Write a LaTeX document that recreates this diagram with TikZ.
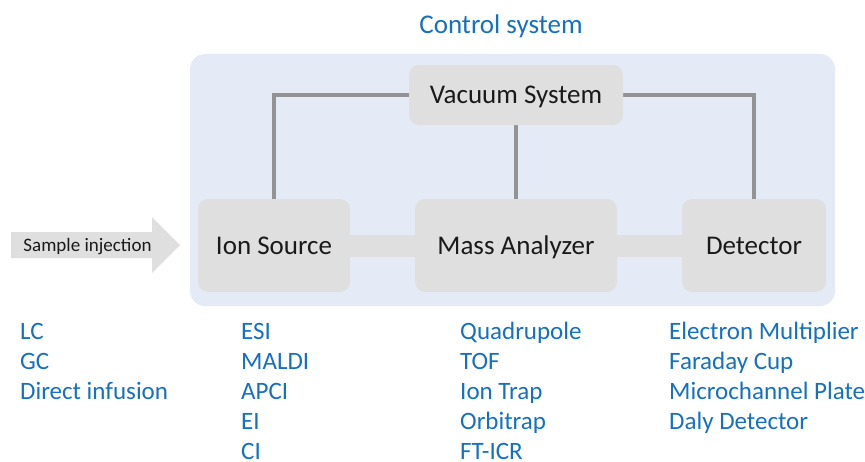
\documentclass[tikz,border=0pt]{standalone}
\usepackage{fontspec}
\setmainfont{Carlito}
\usetikzlibrary{backgrounds}
\definecolor{panel}{HTML}{E5EBF6}
\definecolor{boxg}{HTML}{DFDFDF}
\definecolor{lineg}{HTML}{939393}
\definecolor{txtblue}{HTML}{1570C0}
\definecolor{txtdark}{HTML}{1A1A1A}
\begin{document}
\begin{tikzpicture}[x=1pt,y=-1pt,
  box/.style={fill=boxg, rounded corners=10pt, text=txtdark, font=\fontsize{27}{32}\selectfont, inner sep=0pt, minimum height=93pt, text height=17.4pt, text depth=0pt},
  link/.style={draw=boxg, line width=22pt},
  vline/.style={draw=lineg, line width=4pt},
  item/.style={anchor=base west, text=txtblue, font=\fontsize{25}{30}\selectfont, inner sep=0pt}]
\useasboundingbox (0,0) rectangle (865,461);

\node[text=txtblue, font=\fontsize{27}{32}\selectfont, inner sep=0pt, text height=17.4pt, text depth=0pt] (title) at (501,24.5) {Control system};

\node[box, minimum width=214pt, minimum height=60pt] (vac) at (516,95) {Vacuum System};
\node[box, minimum width=152pt] (is) at (274,245.5) {Ion Source};
\node[box, minimum width=202pt] (ma) at (516,245.5) {Mass Analyzer};
\node[box, minimum width=144pt] (det) at (754,245.5) {Detector};

\begin{scope}[on background layer]
  \fill[panel, rounded corners=15pt] (190,54) rectangle (835,306);
  \draw[link] (is.east) -- (ma.west);
  \draw[link] (ma.east) -- (det.west);
  \draw[vline] (vac.west) -| (is.north);
  \draw[vline] (vac.east) -| (det.north);
  \draw[vline] (vac.south) -- (ma.north);
\end{scope}

% sample injection arrow
\fill[boxg] (11,232) -- (152,232) -- (152,217) -- (180,245) -- (152,273) -- (152,258) -- (11,258) -- cycle;
\node[text=txtdark, font=\fontsize{19}{23}\selectfont, inner sep=0pt, text height=12.2pt, text depth=0pt] (inj) at (87.5,245) {Sample injection};

% lists
\node[item] (lc) at (20,339) {LC};
\node[item] (gc) at (20,369) {GC};
\node[item] (di) at (20,399) {Direct infusion};

\node[item] (esi) at (241,339) {ESI};
\node[item] (maldi) at (241,369) {MALDI};
\node[item] (apci) at (241,399) {APCI};
\node[item] (ei) at (241,429) {EI};
\node[item] (ci) at (241,459) {CI};

\node[item] (quad) at (460,339) {Quadrupole};
\node[item] (tof) at (460,369) {TOF};
\node[item] (trap) at (460,399) {Ion Trap};
\node[item] (orbi) at (460,429) {Orbitrap};
\node[item] (ft) at (460,459) {FT-ICR};

\node[item] (em) at (669,339) {Electron Multiplier};
\node[item] (fc) at (669,369) {Faraday Cup};
\node[item] (mcp) at (669,399) {Microchannel Plate};
\node[item] (daly) at (669,429) {Daly Detector};
\end{tikzpicture}
\end{document}
